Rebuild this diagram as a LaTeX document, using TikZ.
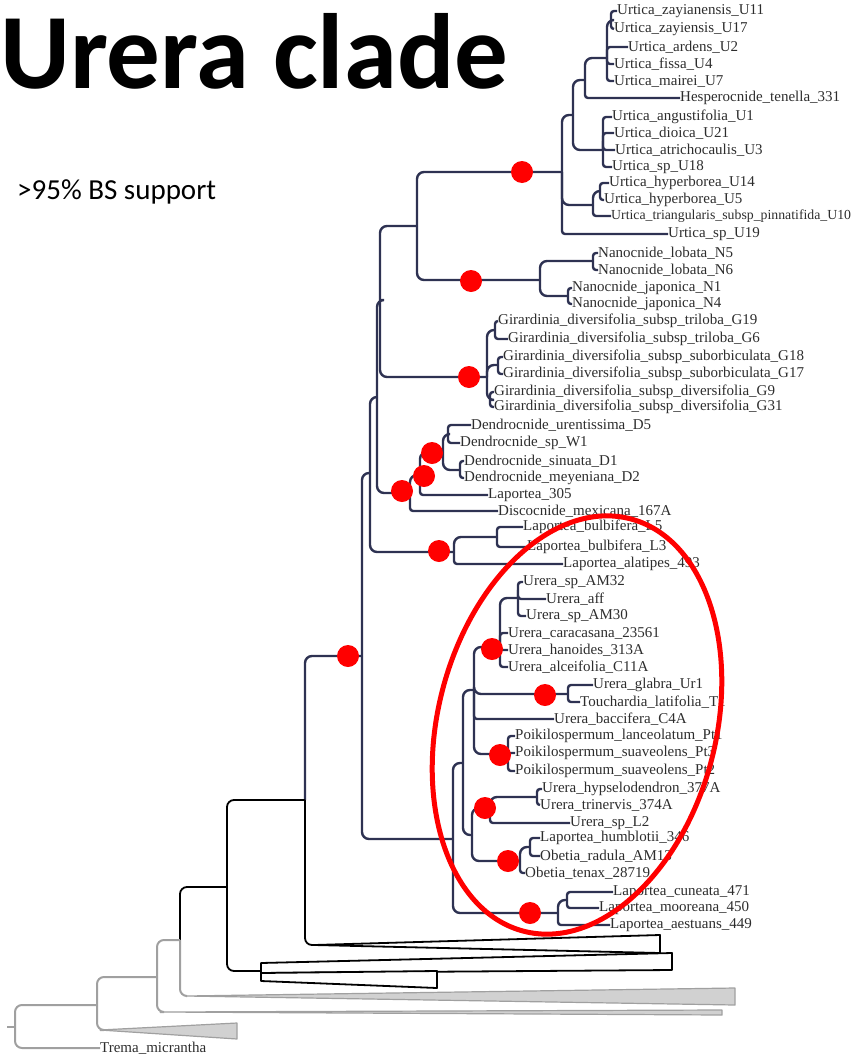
\documentclass[tikz,border=0pt]{standalone}
\usepackage{fontspec}
\setmainfont{Liberation Serif}
\newfontfamily\calibri{Carlito}
\definecolor{tree}{RGB}{46,50,82}
\definecolor{lbl}{RGB}{45,45,45}
\definecolor{dotred}{RGB}{255,0,0}
\definecolor{outg}{RGB}{160,160,160}
\begin{document}
\begin{tikzpicture}[x=1pt,y=-1pt,
  br/.style={draw=tree, line width=2.4pt, rounded corners=3pt},
  bb/.style={draw=tree, line width=2.4pt, rounded corners=7pt},
  blk/.style={draw=black, line width=1.8pt, rounded corners=7pt},
  gry/.style={draw=outg, line width=2pt, rounded corners=7pt},
  lab/.style={anchor=west, inner sep=0pt, text=lbl, font=\fontsize{15}{17}\selectfont},
  bsdot/.style={fill=dotred, circle, inner sep=0pt, minimum size=22pt},
  tri/.style={draw=black, line width=1.8pt, fill=white, line join=round},
  gtri/.style={draw=outg, line width=1.2pt, fill=black!18, line join=round}]
\useasboundingbox (0,0) rectangle (851,1055);

% ---------- titles ----------
\node[anchor=base west, inner sep=0pt, font=\calibri\bfseries\fontsize{107}{112}\selectfont] (title) at (0,88) {Urera clade};
\node[anchor=base west, inner sep=0pt, font=\calibri\fontsize{29}{33}\selectfont] (bs) at (17,199) {>95\% BS support};

% ---------- leaves ----------
\node[lab] (U11) at (617,11) {Urtica\_zayianensis\_U11};
\node[lab] (U17) at (614,29) {Urtica\_zayiensis\_U17};
\node[lab] (U2) at (628,47) {Urtica\_ardens\_U2};
\node[lab] (U4) at (614,64) {Urtica\_fissa\_U4};
\node[lab] (U7) at (614,81) {Urtica\_mairei\_U7};
\node[lab] (Hes) at (680,98) {Hesperocnide\_tenella\_331};
\node[lab] (U1) at (612,117) {Urtica\_angustifolia\_U1};
\node[lab] (U21) at (614,133) {Urtica\_dioica\_U21};
\node[lab] (U3) at (615,150) {Urtica\_atrichocaulis\_U3};
\node[lab] (U18) at (612,167) {Urtica\_sp\_U18};
\node[lab] (U14) at (609,183) {Urtica\_hyperborea\_U14};
\node[lab] (U5) at (604,200) {Urtica\_hyperborea\_U5};
\node[lab, font=\fontsize{13.8}{16}\selectfont] (U10) at (611,216) {Urtica\_triangularis\_subsp\_pinnatifida\_U10};
\node[lab] (U19) at (668,234) {Urtica\_sp\_U19};
\node[lab] (N5) at (598,253) {Nanocnide\_lobata\_N5};
\node[lab] (N6) at (598,270) {Nanocnide\_lobata\_N6};
\node[lab] (N1) at (572,288) {Nanocnide\_japonica\_N1};
\node[lab] (N4) at (572,304) {Nanocnide\_japonica\_N4};
\node[lab] (G19) at (498,321) {Girardinia\_diversifolia\_subsp\_triloba\_G19};
\node[lab] (G6) at (508,339) {Girardinia\_diversifolia\_subsp\_triloba\_G6};
\node[lab] (G18) at (503,357) {Girardinia\_diversifolia\_subsp\_suborbiculata\_G18};
\node[lab] (G17) at (503,374) {Girardinia\_diversifolia\_subsp\_suborbiculata\_G17};
\node[lab] (G9) at (494,392) {Girardinia\_diversifolia\_subsp\_diversifolia\_G9};
\node[lab] (G31) at (494,407) {Girardinia\_diversifolia\_subsp\_diversifolia\_G31};
\node[lab] (D5) at (471,425) {Dendrocnide\_urentissima\_D5};
\node[lab] (W1) at (460,443) {Dendrocnide\_sp\_W1};
\node[lab] (D1) at (464,461) {Dendrocnide\_sinuata\_D1};
\node[lab] (D2) at (464,478) {Dendrocnide\_meyeniana\_D2};
\node[lab] (L305) at (488,495) {Laportea\_305};
\node[lab] (Dis) at (498,511) {Discocnide\_mexicana\_167A};
\node[lab] (Lb5) at (523,527) {Laportea\_bulbifera\_L5};
\node[lab] (Lb3) at (527,547) {Laportea\_bulbifera\_L3};
\node[lab] (Lal) at (563,564) {Laportea\_alatipes\_493};
\node[lab] (AM32) at (523,582) {Urera\_sp\_AM32};
\node[lab] (aff) at (546,599) {Urera\_aff};
\node[lab] (AM30) at (526,616) {Urera\_sp\_AM30};
\node[lab] (car) at (508,633) {Urera\_caracasana\_23561};
\node[lab] (han) at (508,650) {Urera\_hanoides\_313A};
\node[lab] (alc) at (508,667) {Urera\_alceifolia\_C11A};
\node[lab] (gla) at (593,685) {Urera\_glabra\_Ur1};
\node[lab] (Tou) at (580,702) {Touchardia\_latifolia\_T1};
\node[lab] (bac) at (554,719) {Urera\_baccifera\_C4A};
\node[lab] (Pt1) at (515,736) {Poikilospermum\_lanceolatum\_Pt1};
\node[lab] (Pt3) at (515,753) {Poikilospermum\_suaveolens\_Pt3};
\node[lab] (Pt2) at (515,771) {Poikilospermum\_suaveolens\_Pt2};
\node[lab] (hyp) at (542,789) {Urera\_hypselodendron\_377A};
\node[lab] (tri) at (540,805) {Urera\_trinervis\_374A};
\node[lab] (L2) at (570,823) {Urera\_sp\_L2};
\node[lab] (hum) at (540,838) {Laportea\_humblotii\_346};
\node[lab] (rad) at (540,856) {Obetia\_radula\_AM13};
\node[lab] (ten) at (525,873) {Obetia\_tenax\_28719};
\node[lab] (cun) at (613,892) {Laportea\_cuneata\_471};
\node[lab] (moo) at (599,908) {Laportea\_mooreana\_450};
\node[lab] (aes) at (610,925) {Laportea\_aestuans\_449};
\node[lab] (Tre) at (100,1048) {Trema\_micrantha};

% ---------- internal nodes ----------
\coordinate (uC1) at (611,20);
\coordinate (uA) at (607,58);
\coordinate (uB) at (585,80);
\coordinate (uC) at (603,150);
\coordinate (uG) at (573,115);
\coordinate (u145) at (600,191);
\coordinate (uD) at (593,205);
\coordinate (uTop) at (562,172);
\coordinate (nN56) at (593,261);
\coordinate (nN14) at (568,296);
\coordinate (nN) at (540,280);
\coordinate (nUN) at (417,226);
\coordinate (nG196) at (495,330);
\coordinate (nG1817) at (498,365);
\coordinate (nG931) at (490,400);
\coordinate (nG) at (487,377);
\coordinate (Q1) at (380,300);
\coordinate (nD5W1) at (448,434);
\coordinate (nD12) at (460,470);
\coordinate (nD) at (443,452);
\coordinate (nDL) at (420,475);
\coordinate (D0) at (410,493);
\coordinate (Q2) at (377,397);
\coordinate (nLb) at (497,537);
\coordinate (nLbA) at (454,552);
\coordinate (Q3) at (370,473);
\coordinate (nAM) at (518,598);
\coordinate (nU1) at (500,647);
\coordinate (nGT) at (568,694);
\coordinate (nP) at (508,754);
\coordinate (nU2) at (474,690);
\coordinate (nHT) at (537,797);
\coordinate (nHTL) at (490,808);
\coordinate (nLhOr) at (530,847);
\coordinate (nOb) at (520,861);
\coordinate (nU3) at (472,835);
\coordinate (nU4) at (463,763);
\coordinate (ncm) at (567,900);
\coordinate (nLc) at (558,913);
\coordinate (nU5) at (453,839);
\coordinate (N360) at (362,656);
\coordinate (P1) at (305,800);
\coordinate (P2) at (227,887);
\coordinate (P3) at (180,940);
\coordinate (P4) at (157,977);
\coordinate (P5) at (97,1005);
\coordinate (P6) at (15,1027);
\coordinate (root) at (7,1027);
\coordinate (T1a) at (314,945);
\coordinate (T2a) at (261,971);
\coordinate (T3a) at (186,996);
\coordinate (T4a) at (160,1012);
\coordinate (T5a) at (100,1030);

% ---------- leaf edges ----------
\foreach \p/\c in {uC1/U11,uC1/U17,uA/U2,uA/U4,uA/U7,uB/Hes,uC/U1,uC/U21,uC/U3,uC/U18,
  u145/U14,u145/U5,uD/U10,uTop/U19,nN56/N5,nN56/N6,nN14/N1,nN14/N4,
  nG196/G19,nG196/G6,nG1817/G18,nG1817/G17,nG931/G9,nG931/G31,
  nD5W1/D5,nD5W1/W1,nD12/D1,nD12/D2,nDL/L305,D0/Dis,nLb/Lb5,nLb/Lb3,nLbA/Lal,
  nAM/AM32,nAM/aff,nAM/AM30,nU1/car,nU1/han,nU1/alc,nGT/gla,nGT/Tou,nU2/bac,
  nP/Pt1,nP/Pt3,nP/Pt2,nHT/hyp,nHT/tri,nHTL/L2,nLhOr/hum,nLhOr/rad,nOb/ten,
  ncm/cun,ncm/moo,nLc/aes}
  \draw[br] (\p) |- (\c.west);

% ---------- internal edges ----------
\foreach \p/\c in {uA/uC1,uB/uA,uG/uB,uG/uC,uD/u145,uTop/uG,uTop/uD,
  nN/nN56,nN/nN14,nUN/uTop,nUN/nN,nG/nG196,nG/nG1817,nG/nG931,Q1/nUN,Q1/nG,
  nD/nD5W1,nD/nD12,nDL/nD,D0/nDL,Q2/Q1,Q2/D0,nLbA/nLb,Q3/Q2,Q3/nLbA,
  nU1/nAM,nU2/nU1,nU2/nGT,nU2/nP,nHTL/nHT,nOb/nLhOr,nU3/nHTL,nU3/nOb,
  nU4/nU2,nU4/nU3,nLc/ncm,nU5/nU4,nU5/nLc,N360/Q3,N360/nU5,P1/N360}
  \draw[bb] (\p) |- (\c);

% ---------- outgroups ----------
\draw[blk] (P1) |- (T1a);
\draw[blk] (P2) |- (P1);
\draw[blk] (P2) |- (T2a);
\draw[blk] (P3) |- (P2);
\draw[gry] (P3) |- (T3a);
\draw[gry] (P4) |- (P3);
\draw[gry] (P4) |- (T4a);
\draw[gry] (P5) |- (P4);
\draw[gry] (P5) |- (T5a);
\draw[gry] (P6) |- (P5);
\draw[gry] (P6) |- (Tre.west);
\draw[gry] (root) -- (P6);

\draw[tri] (T1a) -- (660,935) -- (660,953) -- cycle;
\draw[tri] (261,963) -- (672,953) -- (672,970) -- (261,973) -- cycle;
\draw[tri] (261,973) -- (437,971) -- (437,988) -- (261,981) -- cycle;
\draw[gtri] (T3a) -- (735,988) -- (735,1005) -- cycle;
\draw[gtri] (T4a) -- (722,1010) -- (722,1015) -- cycle;
\draw[gtri] (T5a) -- (237,1023) -- (237,1039) -- cycle;

% ---------- support dots ----------
\foreach \n/\x/\y in {d1/522/172,d2/471/281,d3/469/377,d4/432/453,d5/424/476,d6/402/491,
  d7/439/551,d8/348/656,d9/492/649,d10/545/695,d11/500/755,d12/485/808,d13/508/861,d14/530/913}
  \node[bsdot] (\n) at (\x,\y) {};

% ---------- highlight ellipse ----------
\draw[dotred, line width=5pt, rotate around={-14.5:(577,725)}] (577,725) ellipse [x radius=139pt, y radius=213pt];
\end{tikzpicture}
\end{document}
